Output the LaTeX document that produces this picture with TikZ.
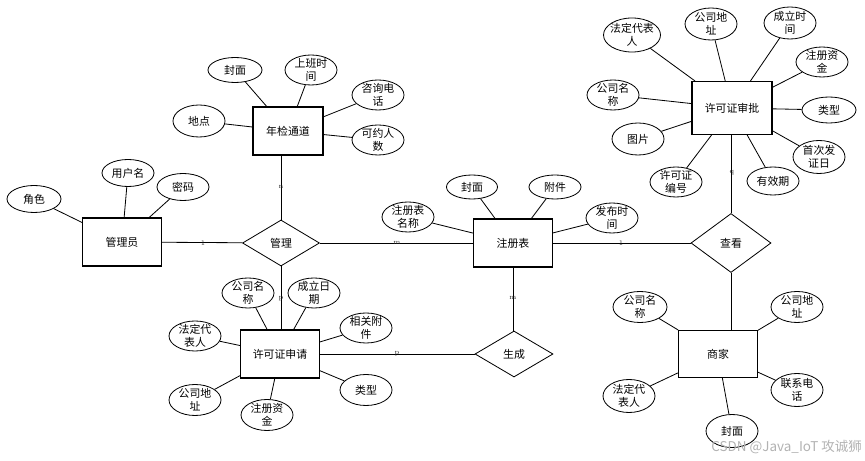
\documentclass[tikz,border=0pt]{standalone}
\usepackage{fontspec}
\newfontfamily\cjk{Noto Sans CJK SC}
\usetikzlibrary{shapes.geometric}
\begin{document}
\begin{tikzpicture}[x=0.03cm,y=-0.03cm,
  ent/.style={draw, line width=0.9pt, rectangle, inner sep=0pt,
    minimum width=2.37cm, minimum height=1.44cm, font=\cjk\fontsize{9.3}{11}\selectfont},
  rel/.style={draw, line width=0.7pt, diamond, aspect=1.7, inner sep=0pt,
    minimum width=2.31cm, minimum height=1.38cm, font=\cjk\fontsize{9.3}{11}\selectfont},
  attr/.style={draw, line width=0.7pt, ellipse, inner xsep=-25pt, inner ysep=-15pt, align=center,
    minimum width=1.56cm, minimum height=0.9cm, font=\cjk\fontsize{9.3}{11}\selectfont},
  conn/.style={line width=0.7pt},
  card/.style={font=\fontsize{6}{6}\selectfont, inner sep=0pt, text=black!85}
]
\useasboundingbox (0,0) rectangle (865,461);

% entities
\node[ent] (gly) at (122,242) {管理员};
\node[ent, minimum width=2.1cm] (njtd) at (288,131) {年检通道};
\node[ent] (zcb) at (513,243) {注册表};
\node[ent, minimum width=2.4cm, minimum height=1.59cm] (xksp) at (732,108) {许可证审批};
\node[ent] (xksq) at (280,354) {许可证申请};
\node[ent, minimum height=1.41cm] (sj) at (718,354) {商家};

% relationships
\node[rel] (gl) at (281,243) {管理};
\node[rel, minimum width=2.4cm, minimum height=1.77cm] (ck) at (731,243) {查看};
\node[rel, minimum width=2.34cm] (sc) at (514,354) {生成};

% relationship connectors
\draw[conn] (gly) -- (gl);
\draw[conn] (gl) -- (zcb);
\draw[conn] (zcb) -- (ck);
\draw[conn] (gl.north) -- (gl.north |- njtd.south);
\draw[conn] (gl.south) -- (gl.south |- xksq.north);
\draw[conn] (ck.north) -- (ck.north |- xksp.south);
\draw[conn] (zcb.south) -- (zcb.south |- sc.north);
\draw[conn] (xksq) -- (sc);
\draw[conn] (ck.south) -- (ck.south |- sj.north);

% cardinalities
\node[card] (c1) at (203,243) {1};
\node[card] (c2) at (397,243) {m};
\node[card] (c3) at (281,187) {n};
\node[card] (c4) at (281,299) {p};
\node[card] (c5) at (397,354) {p};
\node[card] (c6) at (621,243) {1};
\node[card] (c7) at (732,173) {q};
\node[card] (c8) at (513,298) {m};

% 管理员 attributes
\node[attr, minimum width=1.62cm, minimum height=0.81cm] (a1) at (34,199) {角色};
\node[attr, minimum height=0.81cm] (a2) at (128,173) {用户名};
\node[attr, minimum height=0.81cm] (a3) at (183,187) {密码};
\foreach \a in {a1,a2,a3} \draw[conn] (\a) -- (gly);

% 年检通道 attributes
\node[attr, minimum width=1.62cm, minimum height=0.75cm] (b1) at (235,70) {封面};
\node[attr] (b2) at (311,70) {上班时\\间};
\node[attr] (b3) at (378,95) {咨询电\\话};
\node[attr, minimum height=0.96cm] (b4) at (199,121) {地点};
\node[attr] (b5) at (378,140) {可约人\\数};
\foreach \a in {b1,b2,b3,b4,b5} \draw[conn] (\a) -- (njtd);

% 注册表 attributes
\node[attr] (d1) at (408,217) {注册表\\名称};
\node[attr, minimum width=1.53cm, minimum height=0.72cm] (d2) at (472,187) {封面};
\node[attr, minimum height=0.72cm] (d3) at (555,187) {附件};
\node[attr] (d4) at (612,218) {发布时\\间};
\foreach \a in {d1,d2,d3,d4} \draw[conn] (\a) -- (zcb);

% 许可证审批 attributes
\node[attr, minimum width=1.71cm, minimum height=1.02cm] (e1) at (632,35) {法定代表\\人};
\node[attr, minimum height=0.96cm] (e2) at (711,24) {公司地\\址};
\node[attr, minimum height=0.96cm] (e3) at (790,23) {成立时\\间};
\node[attr] (e4) at (822,62) {注册资\\金};
\node[attr] (e5) at (613,95) {公司名\\称};
\node[attr, minimum width=1.62cm, minimum height=0.78cm] (e6) at (829,110) {类型};
\node[attr, minimum height=0.96cm] (e7) at (638,139) {图片};
\node[attr, minimum height=0.99cm] (e8) at (819,157) {首次发\\证日};
\node[attr] (e9) at (676,182) {许可证\\编号};
\node[attr, minimum height=0.84cm] (e10) at (773,181) {有效期};
\foreach \a in {e1,e2,e3,e4,e5,e6,e7,e8,e9,e10} \draw[conn] (\a) -- (xksp);

% 许可证申请 attributes
\node[attr] (f1) at (248,293) {公司名\\称};
\node[attr] (f2) at (314,293) {成立日\\期};
\node[attr] (f3) at (195,336) {法定代\\表人};
\node[attr] (f4) at (366,328) {相关附\\件};
\node[attr, minimum height=0.93cm] (f5) at (195,400) {公司地\\址};
\node[attr, minimum height=0.93cm] (f6) at (267,415) {注册资\\金};
\node[attr, minimum height=0.93cm] (f7) at (366,390) {类型};
\foreach \a in {f1,f2,f3,f4,f5,f6,f7} \draw[conn] (\a) -- (xksq);

% 商家 attributes
\node[attr, minimum width=1.62cm, minimum height=0.93cm] (g1) at (640,307) {公司名\\称};
\node[attr, minimum height=0.93cm] (g2) at (797,307) {公司地\\址};
\node[attr, minimum height=0.99cm] (g3) at (629,396) {法定代\\表人};
\node[attr, minimum height=0.99cm] (g4) at (797,390) {联系电\\话};
\node[attr, minimum height=0.99cm] (g5) at (732,431) {封面};
\foreach \a in {g1,g2,g3,g4,g5} \draw[conn] (\a) -- (sj);

% watermark
\node[anchor=base east, inner sep=0pt, text=black!30,
  font=\cjk\fontsize{11.5}{12}\selectfont] (wm) at (862,452) {CSDN @Java\_IoT 攻诚狮};
\end{tikzpicture}
\end{document}
